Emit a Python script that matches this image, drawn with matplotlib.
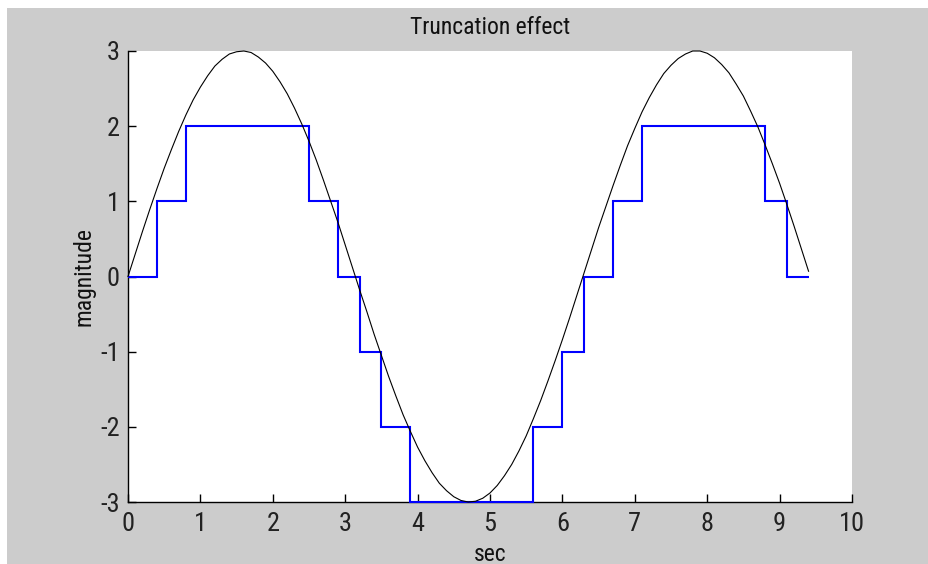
import numpy as np
import matplotlib
matplotlib.use("Agg")
import matplotlib.pyplot as plt
from matplotlib.patches import Rectangle

# Analog signal 3*sin(t), sampled every 0.1 s from 0 to 9.4 s
signal = [
    0.00, 0.30, 0.60, 0.89, 1.17, 1.44, 1.69, 1.93, 2.15, 2.35,
    2.52, 2.67, 2.80, 2.89, 2.96, 2.99, 3.00, 2.98, 2.92, 2.84,
    2.73, 2.59, 2.43, 2.24, 2.03, 1.80, 1.55, 1.28, 1.00, 0.72,
    0.42, 0.12, -0.18, -0.47, -0.77, -1.05, -1.33, -1.59, -1.84, -2.06,
    -2.27, -2.45, -2.61, -2.75, -2.85, -2.93, -2.98, -3.00, -2.99, -2.95,
    -2.88, -2.78, -2.65, -2.50, -2.32, -2.12, -1.89, -1.65, -1.39, -1.12,
    -0.84, -0.55, -0.25, 0.05, 0.35, 0.65, 0.93, 1.21, 1.48, 1.74,
    1.97, 2.19, 2.38, 2.55, 2.70, 2.81, 2.90, 2.96, 3.00, 3.00,
    2.97, 2.91, 2.82, 2.71, 2.56, 2.40, 2.20, 1.99, 1.75, 1.50,
    1.24, 0.96, 0.67, 0.37, 0.07,
]
sample_step = 0.1
t = np.round(np.arange(len(signal)) * sample_step, 1)

# Truncated (quantized) signal: level held between consecutive edges
step_edges = [0.0, 0.4, 0.8, 2.5, 2.9, 3.2, 3.5, 3.9, 5.6, 6.0, 6.3, 6.7, 7.1, 8.8, 9.1, 9.4]
step_levels = [0, 1, 2, 1, 0, -1, -2, -3, -2, -1, 0, 1, 2, 1, 0]

x_ticks = list(range(0, 11))
y_ticks = list(range(-3, 4))

plt.rcParams["axes.unicode_minus"] = False

W, H = 929, 564
fig = plt.figure(figsize=(W / 100, H / 100), dpi=100)
fig.patch.set_facecolor("white")

# grey window background with a thin white margin on the top and left
fig.patches.append(Rectangle((7 / W, 0), 1 - 7 / W, 1 - 8 / H,
                             transform=fig.transFigure, facecolor="#cccccc",
                             edgecolor="none", zorder=-10))

fam = ["Roboto Condensed", "Liberation Sans Narrow", "Liberation Sans", "DejaVu Sans"]

ax = fig.add_axes([128 / W, 1 - 502 / H, (852 - 128) / W, (502 - 51) / H])
ax.set_facecolor("white")

ax.stairs(step_levels, step_edges, color="#0000ff", lw=1.5, baseline=None,
          clip_on=False, zorder=3)
ax.plot(t, signal, color="black", lw=0.8, clip_on=False, zorder=4)

ax.set_xlim(0, 10)
ax.set_ylim(-3, 3)
ax.set_xticks(x_ticks)
ax.set_yticks(y_ticks)

for s in ["top", "right"]:
    ax.spines[s].set_visible(False)
for s in ["left", "bottom"]:
    ax.spines[s].set_linewidth(1.0)
    ax.spines[s].set_color("black")

ax.tick_params(direction="in", length=6, width=1.0, colors="black",
               labelsize=19)
ax.tick_params(axis="y", pad=6)
ax.tick_params(axis="x", pad=7)
for lab in ax.get_xticklabels() + ax.get_yticklabels():
    lab.set_family(fam)
    lab.set_color("#222222")

ax.set_title("Truncation effect", fontsize=17, family=fam, pad=12, color="#111111")
ax.set_xlabel("sec", fontsize=17, family=fam, labelpad=5, color="#111111")
ax.set_ylabel("magnitude", fontsize=17, family=fam, labelpad=3, color="#111111")

fig.savefig("out.png", dpi=100, facecolor=fig.get_facecolor())
